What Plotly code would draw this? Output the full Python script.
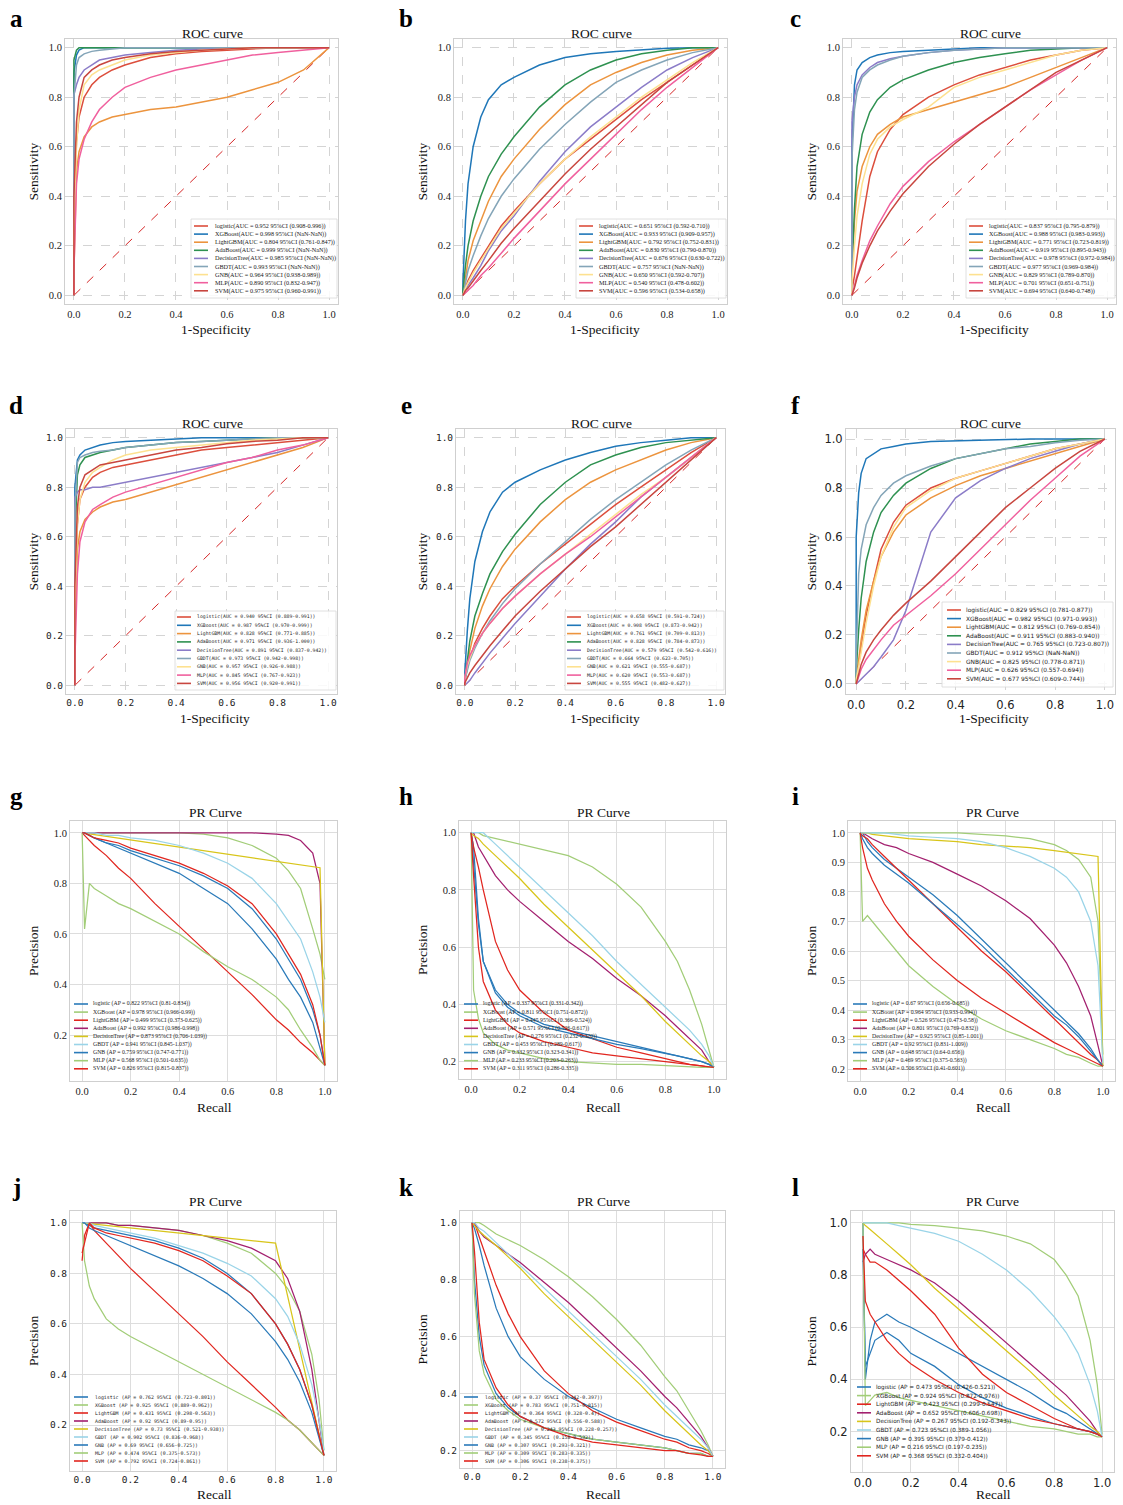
import plotly.graph_objects as go

W, H = 1123, 1505

MODELS = ["logistic", "XGBoost", "LightGBM", "AdaBoost", "DecisionTree",
          "GBDT", "GNB", "MLP", "SVM"]
ROC_COLORS = ["#dc4e3c", "#1f77b8", "#ec943e", "#2e9150", "#8b7cc8",
              "#84a5b8", "#fde190", "#f0609e", "#c8463f"]
PR_COLORS = ["#2a7ab9", "#a2cd78", "#e1261f", "#a3206f", "#d8c51a",
             "#9ad4e8", "#2a7ab9", "#a2cd78", "#e1261f"]
DIAG = [0.0, 1.0]

# ---------------- ROC data (false positive rate grid, TPR per model) ----------------
ROC_FPR = [0.0, 0.0, 0.01, 0.02, 0.04, 0.07, 0.1, 0.15, 0.2, 0.3, 0.4, 0.5, 0.6, 0.7, 0.8, 0.9, 1.0]

ROC_A_TPR = [
    [0, 0.30, 0.62, 0.72, 0.80, 0.85, 0.88, 0.91, 0.93, 0.96, 0.975, 0.985, 0.99, 0.995, 1.0, 1.0, 1.0],
    [0, 0.90, 0.97, 0.99, 1.0, 1.0, 1.0, 1.0, 1.0, 1.0, 1.0, 1.0, 1.0, 1.0, 1.0, 1.0, 1.0],
    [0, 0.10, 0.50, 0.58, 0.64, 0.68, 0.70, 0.72, 0.73, 0.75, 0.76, 0.78, 0.80, 0.83, 0.86, 0.91, 1.0],
    [0, 0.95, 0.99, 1.0, 1.0, 1.0, 1.0, 1.0, 1.0, 1.0, 1.0, 1.0, 1.0, 1.0, 1.0, 1.0, 1.0],
    [0, 0.81, 0.85, 0.88, 0.91, 0.93, 0.95, 0.96, 0.97, 0.98, 0.99, 0.995, 1.0, 1.0, 1.0, 1.0, 1.0],
    [0, 0.80, 0.93, 0.96, 0.975, 0.985, 0.99, 0.995, 1.0, 1.0, 1.0, 1.0, 1.0, 1.0, 1.0, 1.0, 1.0],
    [0, 0.25, 0.60, 0.75, 0.85, 0.89, 0.91, 0.93, 0.95, 0.97, 0.98, 0.99, 0.995, 1.0, 1.0, 1.0, 1.0],
    [0, 0.10, 0.45, 0.55, 0.63, 0.70, 0.75, 0.80, 0.84, 0.88, 0.91, 0.93, 0.95, 0.97, 0.98, 0.99, 1.0],
    [0, 0.40, 0.70, 0.80, 0.88, 0.91, 0.93, 0.95, 0.96, 0.975, 0.985, 0.99, 0.995, 1.0, 1.0, 1.0, 1.0],
]
ROC_A_AUC = ["0.952", "0.998", "0.804", "0.999", "0.985", "0.993", "0.964", "0.890", "0.975"]
ROC_A_CI = ["0.908-0.996", "NaN-NaN", "0.761-0.847", "NaN-NaN", "NaN-NaN", "NaN-NaN",
            "0.938-0.989", "0.832-0.947", "0.960-0.991"]

ROC_B_TPR = [
    [0, 0, 0.03, 0.06, 0.10, 0.15, 0.20, 0.28, 0.34, 0.45, 0.55, 0.63, 0.71, 0.79, 0.86, 0.93, 1.0],
    [0, 0.05, 0.30, 0.45, 0.60, 0.72, 0.79, 0.85, 0.88, 0.93, 0.96, 0.975, 0.985, 0.993, 0.998, 1.0, 1.0],
    [0, 0, 0.08, 0.14, 0.22, 0.30, 0.38, 0.48, 0.55, 0.67, 0.77, 0.85, 0.90, 0.94, 0.97, 0.99, 1.0],
    [0, 0.02, 0.12, 0.20, 0.30, 0.40, 0.48, 0.57, 0.64, 0.76, 0.85, 0.91, 0.95, 0.975, 0.99, 1.0, 1.0],
    [0, 0, 0.02, 0.04, 0.07, 0.12, 0.18, 0.26, 0.32, 0.46, 0.58, 0.68, 0.76, 0.84, 0.91, 0.96, 1.0],
    [0, 0, 0.05, 0.10, 0.16, 0.24, 0.31, 0.40, 0.47, 0.59, 0.69, 0.78, 0.86, 0.91, 0.95, 0.98, 1.0],
    [0, 0, 0.03, 0.05, 0.09, 0.14, 0.19, 0.27, 0.33, 0.45, 0.55, 0.64, 0.72, 0.80, 0.87, 0.94, 1.0],
    [0, 0, 0.01, 0.02, 0.04, 0.08, 0.11, 0.17, 0.23, 0.34, 0.45, 0.55, 0.65, 0.75, 0.84, 0.92, 1.0],
    [0, 0, 0.02, 0.03, 0.06, 0.10, 0.14, 0.21, 0.27, 0.38, 0.49, 0.59, 0.68, 0.77, 0.86, 0.93, 1.0],
]
ROC_B_AUC = ["0.651", "0.933", "0.792", "0.830", "0.676", "0.757", "0.650", "0.540", "0.596"]
ROC_B_CI = ["0.592-0.710", "0.909-0.957", "0.752-0.831", "0.790-0.870", "0.630-0.722",
            "NaN-NaN", "0.592-0.707", "0.478-0.602", "0.534-0.658"]

ROC_C_TPR = [
    [0, 0.02, 0.08, 0.15, 0.30, 0.48, 0.58, 0.67, 0.73, 0.80, 0.85, 0.89, 0.92, 0.95, 0.97, 0.99, 1.0],
    [0, 0.60, 0.85, 0.91, 0.94, 0.96, 0.97, 0.98, 0.985, 0.99, 0.995, 1.0, 1.0, 1.0, 1.0, 1.0, 1.0],
    [0, 0.10, 0.30, 0.42, 0.52, 0.60, 0.65, 0.69, 0.72, 0.75, 0.78, 0.81, 0.84, 0.88, 0.92, 0.96, 1.0],
    [0, 0.10, 0.35, 0.52, 0.65, 0.74, 0.79, 0.84, 0.87, 0.91, 0.94, 0.96, 0.975, 0.99, 0.995, 1.0, 1.0],
    [0, 0.70, 0.80, 0.85, 0.89, 0.92, 0.94, 0.955, 0.965, 0.98, 0.99, 0.995, 1.0, 1.0, 1.0, 1.0, 1.0],
    [0, 0.55, 0.75, 0.82, 0.88, 0.91, 0.93, 0.95, 0.965, 0.98, 0.99, 0.995, 1.0, 1.0, 1.0, 1.0, 1.0],
    [0, 0.05, 0.20, 0.32, 0.45, 0.57, 0.63, 0.68, 0.71, 0.76, 0.84, 0.88, 0.91, 0.94, 0.97, 0.99, 1.0],
    [0, 0, 0.04, 0.08, 0.14, 0.22, 0.28, 0.37, 0.44, 0.54, 0.62, 0.69, 0.76, 0.83, 0.89, 0.95, 1.0],
    [0, 0, 0.03, 0.07, 0.13, 0.20, 0.26, 0.34, 0.41, 0.52, 0.61, 0.69, 0.76, 0.83, 0.90, 0.95, 1.0],
]
ROC_C_AUC = ["0.837", "0.988", "0.771", "0.919", "0.978", "0.977", "0.829", "0.701", "0.694"]
ROC_C_CI = ["0.795-0.879", "0.983-0.993", "0.723-0.819", "0.895-0.943", "0.972-0.984",
            "0.969-0.984", "0.789-0.870", "0.651-0.751", "0.640-0.748"]

ROC_D_TPR = [
    [0, 0.30, 0.65, 0.75, 0.80, 0.84, 0.86, 0.88, 0.89, 0.91, 0.93, 0.95, 0.96, 0.97, 0.98, 0.99, 1.0],
    [0, 0.80, 0.91, 0.93, 0.95, 0.96, 0.97, 0.98, 0.985, 0.99, 0.995, 1.0, 1.0, 1.0, 1.0, 1.0, 1.0],
    [0, 0.20, 0.55, 0.62, 0.67, 0.70, 0.72, 0.74, 0.75, 0.78, 0.81, 0.84, 0.87, 0.90, 0.93, 0.96, 1.0],
    [0, 0.60, 0.85, 0.89, 0.92, 0.93, 0.94, 0.95, 0.96, 0.97, 0.98, 0.985, 0.99, 0.995, 1.0, 1.0, 1.0],
    [0, 0.76, 0.78, 0.79, 0.79, 0.80, 0.80, 0.81, 0.82, 0.84, 0.86, 0.88, 0.90, 0.92, 0.94, 0.97, 1.0],
    [0, 0.70, 0.90, 0.92, 0.93, 0.94, 0.945, 0.95, 0.96, 0.97, 0.98, 0.985, 0.99, 0.995, 1.0, 1.0, 1.0],
    [0, 0.30, 0.65, 0.75, 0.82, 0.86, 0.88, 0.91, 0.93, 0.95, 0.96, 0.97, 0.98, 0.99, 0.995, 1.0, 1.0],
    [0, 0.10, 0.45, 0.58, 0.66, 0.71, 0.73, 0.76, 0.78, 0.81, 0.84, 0.87, 0.90, 0.92, 0.95, 0.97, 1.0],
    [0, 0.40, 0.72, 0.80, 0.85, 0.87, 0.89, 0.90, 0.91, 0.93, 0.95, 0.96, 0.975, 0.985, 0.99, 1.0, 1.0],
]
ROC_D_AUC = ["0.940", "0.987", "0.828", "0.971", "0.891", "0.973", "0.957", "0.845", "0.956"]
ROC_D_CI = ["0.889-0.991", "0.970-0.999", "0.771-0.885", "0.936-1.000", "0.837-0.942",
            "0.942-0.998", "0.926-0.988", "0.767-0.923", "0.920-0.991"]

ROC_E_TPR = [
    [0, 0.02, 0.07, 0.11, 0.17, 0.23, 0.28, 0.35, 0.40, 0.49, 0.57, 0.65, 0.73, 0.80, 0.87, 0.94, 1.0],
    [0, 0.05, 0.22, 0.35, 0.50, 0.62, 0.70, 0.78, 0.82, 0.87, 0.91, 0.94, 0.965, 0.98, 0.99, 1.0, 1.0],
    [0, 0.01, 0.08, 0.14, 0.23, 0.32, 0.39, 0.48, 0.55, 0.66, 0.75, 0.82, 0.87, 0.91, 0.95, 0.98, 1.0],
    [0, 0.02, 0.10, 0.18, 0.28, 0.37, 0.45, 0.54, 0.61, 0.73, 0.82, 0.89, 0.93, 0.96, 0.98, 0.99, 1.0],
    [0, 0, 0.01, 0.02, 0.05, 0.09, 0.13, 0.19, 0.25, 0.36, 0.47, 0.57, 0.66, 0.76, 0.84, 0.92, 1.0],
    [0, 0.02, 0.06, 0.10, 0.15, 0.21, 0.26, 0.33, 0.39, 0.49, 0.58, 0.67, 0.75, 0.82, 0.89, 0.95, 1.0],
    [0, 0.03, 0.08, 0.11, 0.16, 0.21, 0.25, 0.31, 0.36, 0.45, 0.53, 0.61, 0.69, 0.77, 0.84, 0.92, 1.0],
    [0, 0.03, 0.09, 0.12, 0.16, 0.21, 0.25, 0.31, 0.36, 0.45, 0.53, 0.60, 0.68, 0.76, 0.84, 0.92, 1.0],
    [0, 0.01, 0.03, 0.05, 0.08, 0.12, 0.16, 0.22, 0.28, 0.38, 0.47, 0.56, 0.64, 0.73, 0.82, 0.91, 1.0],
]
ROC_E_AUC = ["0.658", "0.908", "0.761", "0.828", "0.579", "0.664", "0.621", "0.620", "0.555"]
ROC_E_CI = ["0.591-0.724", "0.873-0.942", "0.709-0.813", "0.784-0.873", "0.542-0.616",
            "0.623-0.705", "0.555-0.687", "0.553-0.687", "0.482-0.627"]

ROC_F_TPR = [
    [0, 0.02, 0.08, 0.15, 0.28, 0.42, 0.55, 0.66, 0.73, 0.80, 0.84, 0.87, 0.90, 0.93, 0.96, 0.98, 1.0],
    [0, 0.60, 0.78, 0.86, 0.92, 0.94, 0.96, 0.97, 0.98, 0.99, 0.993, 0.996, 1.0, 1.0, 1.0, 1.0, 1.0],
    [0, 0.02, 0.10, 0.18, 0.30, 0.42, 0.52, 0.62, 0.69, 0.76, 0.81, 0.85, 0.88, 0.91, 0.94, 0.97, 1.0],
    [0, 0.05, 0.22, 0.35, 0.50, 0.62, 0.70, 0.77, 0.82, 0.88, 0.92, 0.94, 0.96, 0.98, 0.99, 1.0, 1.0],
    [0, 0, 0.01, 0.02, 0.04, 0.07, 0.11, 0.18, 0.30, 0.62, 0.76, 0.83, 0.88, 0.92, 0.95, 0.98, 1.0],
    [0, 0.10, 0.45, 0.55, 0.65, 0.72, 0.77, 0.82, 0.85, 0.89, 0.92, 0.94, 0.96, 0.97, 0.985, 0.995, 1.0],
    [0, 0.02, 0.07, 0.13, 0.25, 0.40, 0.52, 0.64, 0.72, 0.79, 0.84, 0.87, 0.90, 0.93, 0.96, 0.98, 1.0],
    [0, 0, 0.03, 0.06, 0.10, 0.14, 0.18, 0.24, 0.28, 0.36, 0.45, 0.55, 0.65, 0.75, 0.84, 0.93, 1.0],
    [0, 0, 0.04, 0.08, 0.13, 0.18, 0.22, 0.28, 0.33, 0.42, 0.52, 0.62, 0.72, 0.80, 0.88, 0.95, 1.0],
]
ROC_F_AUC = ["0.829", "0.982", "0.812", "0.911", "0.765", "0.912", "0.825", "0.626", "0.677"]
ROC_F_CI = ["0.781-0.877", "0.971-0.993", "0.769-0.854", "0.883-0.940", "0.723-0.807",
            "NaN-NaN", "0.778-0.871", "0.557-0.694", "0.609-0.744"]

# ---------------- PR data (recall grid, precision per model) ----------------
PR_RECALL = [0.0, 0.01, 0.03, 0.05, 0.1, 0.15, 0.2, 0.3, 0.4, 0.5, 0.6, 0.7, 0.8, 0.85, 0.9, 0.95, 0.98, 1.0]

PR_G_PREC = [
    [1.0, 1.0, 0.99, 0.98, 0.96, 0.95, 0.93, 0.90, 0.87, 0.83, 0.78, 0.70, 0.58, 0.50, 0.42, 0.30, 0.20, 0.08],
    [1.0, 1.0, 1.0, 1.0, 1.0, 1.0, 1.0, 1.0, 1.0, 0.995, 0.98, 0.95, 0.90, 0.85, 0.78, 0.62, 0.52, 0.42],
    [1.0, 0.99, 0.97, 0.95, 0.91, 0.86, 0.82, 0.72, 0.63, 0.54, 0.45, 0.36, 0.26, 0.22, 0.17, 0.13, 0.10, 0.08],
    [1.0, 1.0, 1.0, 1.0, 1.0, 1.0, 1.0, 1.0, 1.0, 1.0, 1.0, 1.0, 0.995, 0.99, 0.97, 0.92, 0.80, 0.08],
    [1.0, 0.998, 0.995, 0.993, 0.986, 0.979, 0.972, 0.958, 0.944, 0.93, 0.916, 0.902, 0.888, 0.881, 0.874, 0.867, 0.862, 0.08],
    [1.0, 1.0, 1.0, 1.0, 0.99, 0.99, 0.98, 0.97, 0.95, 0.92, 0.88, 0.82, 0.72, 0.65, 0.58, 0.45, 0.35, 0.25],
    [1.0, 1.0, 0.99, 0.98, 0.96, 0.94, 0.92, 0.88, 0.84, 0.78, 0.72, 0.62, 0.50, 0.42, 0.35, 0.25, 0.15, 0.08],
    [1.0, 0.62, 0.80, 0.78, 0.75, 0.72, 0.70, 0.65, 0.60, 0.53, 0.47, 0.42, 0.35, 0.30, 0.22, 0.15, 0.10, 0.08],
    [1.0, 1.0, 0.99, 0.98, 0.97, 0.96, 0.94, 0.91, 0.88, 0.84, 0.79, 0.72, 0.60, 0.52, 0.44, 0.32, 0.20, 0.08],
]
PR_G_AP = ["0.822", "0.978", "0.499", "0.992", "0.873", "0.941", "0.759", "0.568", "0.826"]
PR_G_CI = ["0.81-0.834", "0.966-0.99", "0.373-0.625", "0.986-0.998", "0.706-1.039",
           "0.845-1.037", "0.747-0.771", "0.501-0.635", "0.815-0.837"]

PR_H_PREC = [
    [1.0, 0.95, 0.70, 0.55, 0.45, 0.40, 0.37, 0.33, 0.31, 0.29, 0.27, 0.25, 0.23, 0.22, 0.21, 0.20, 0.19, 0.18],
    [1.0, 1.0, 1.0, 0.99, 0.98, 0.97, 0.96, 0.94, 0.92, 0.88, 0.82, 0.74, 0.62, 0.55, 0.45, 0.33, 0.24, 0.18],
    [1.0, 0.95, 0.88, 0.80, 0.62, 0.52, 0.45, 0.37, 0.31, 0.28, 0.25, 0.23, 0.21, 0.20, 0.19, 0.185, 0.18, 0.18],
    [1.0, 1.0, 0.95, 0.92, 0.85, 0.80, 0.76, 0.69, 0.62, 0.56, 0.49, 0.43, 0.36, 0.32, 0.28, 0.24, 0.20, 0.18],
    [1.0, 0.99, 0.98, 0.96, 0.92, 0.88, 0.84, 0.75, 0.67, 0.59, 0.51, 0.43, 0.34, 0.30, 0.26, 0.22, 0.20, 0.18],
    [1.0, 1.0, 1.0, 1.0, 0.96, 0.92, 0.88, 0.80, 0.72, 0.64, 0.55, 0.47, 0.39, 0.35, 0.31, 0.26, 0.22, 0.18],
    [1.0, 0.90, 0.68, 0.55, 0.44, 0.39, 0.36, 0.32, 0.30, 0.28, 0.26, 0.245, 0.23, 0.22, 0.21, 0.20, 0.19, 0.18],
    [1.0, 0.45, 0.35, 0.30, 0.26, 0.24, 0.23, 0.21, 0.20, 0.195, 0.19, 0.19, 0.185, 0.185, 0.18, 0.18, 0.18, 0.18],
    [1.0, 0.85, 0.60, 0.48, 0.38, 0.33, 0.30, 0.27, 0.25, 0.23, 0.22, 0.21, 0.20, 0.195, 0.19, 0.185, 0.18, 0.18],
]
PR_H_AP = ["0.337", "0.811", "0.445", "0.571", "0.276", "0.453", "0.332", "0.233", "0.311"]
PR_H_CI = ["0.331-0.342", "0.751-0.872", "0.366-0.524", "0.526-0.617", "0.232-0.320",
           "0.289-0.617", "0.323-0.341", "0.203-0.263", "0.286-0.335"]

PR_I_PREC = [
    [1.0, 1.0, 0.97, 0.95, 0.91, 0.88, 0.85, 0.79, 0.72, 0.64, 0.56, 0.48, 0.40, 0.36, 0.32, 0.27, 0.23, 0.21],
    [1.0, 1.0, 1.0, 1.0, 1.0, 1.0, 1.0, 1.0, 1.0, 0.995, 0.99, 0.98, 0.96, 0.94, 0.91, 0.85, 0.70, 0.25],
    [1.0, 0.99, 0.98, 0.96, 0.92, 0.88, 0.84, 0.76, 0.68, 0.60, 0.53, 0.45, 0.37, 0.33, 0.29, 0.25, 0.23, 0.21],
    [1.0, 1.0, 0.99, 0.98, 0.96, 0.95, 0.93, 0.90, 0.86, 0.82, 0.77, 0.71, 0.62, 0.56, 0.48, 0.38, 0.28, 0.21],
    [1.0, 1.0, 1.0, 0.995, 0.99, 0.985, 0.98, 0.975, 0.97, 0.96, 0.955, 0.95, 0.94, 0.935, 0.93, 0.925, 0.92, 0.21],
    [1.0, 1.0, 1.0, 1.0, 1.0, 0.995, 0.99, 0.985, 0.98, 0.97, 0.95, 0.92, 0.88, 0.85, 0.80, 0.70, 0.55, 0.22],
    [1.0, 0.98, 0.95, 0.93, 0.89, 0.86, 0.83, 0.76, 0.69, 0.62, 0.54, 0.46, 0.38, 0.35, 0.31, 0.26, 0.23, 0.21],
    [1.0, 0.70, 0.72, 0.70, 0.65, 0.60, 0.55, 0.48, 0.42, 0.37, 0.33, 0.30, 0.27, 0.25, 0.24, 0.22, 0.21, 0.21],
    [1.0, 0.95, 0.88, 0.84, 0.76, 0.70, 0.65, 0.57, 0.50, 0.44, 0.39, 0.34, 0.29, 0.27, 0.25, 0.23, 0.22, 0.21],
]
PR_I_AP = ["0.67", "0.964", "0.526", "0.801", "0.925", "0.92", "0.648", "0.469", "0.506"]
PR_I_CI = ["0.656-0.685", "0.933-0.994", "0.473-0.58", "0.769-0.832", "0.85-1.001",
           "0.831-1.009", "0.64-0.656", "0.375-0.563", "0.41-0.601"]

PR_J_PREC = [
    [1.0, 1.0, 0.99, 0.98, 0.97, 0.96, 0.95, 0.93, 0.90, 0.86, 0.80, 0.72, 0.60, 0.52, 0.42, 0.28, 0.16, 0.08],
    [1.0, 1.0, 1.0, 1.0, 1.0, 0.99, 0.99, 0.98, 0.97, 0.95, 0.92, 0.88, 0.80, 0.74, 0.65, 0.48, 0.30, 0.10],
    [0.85, 0.95, 1.0, 0.97, 0.92, 0.87, 0.82, 0.73, 0.64, 0.55, 0.45, 0.36, 0.27, 0.22, 0.18, 0.13, 0.10, 0.08],
    [1.0, 1.0, 1.0, 1.0, 1.0, 0.99, 0.99, 0.98, 0.97, 0.95, 0.93, 0.90, 0.85, 0.78, 0.65, 0.42, 0.22, 0.08],
    [1.0, 0.999, 0.997, 0.995, 0.99, 0.985, 0.98, 0.97, 0.96, 0.95, 0.94, 0.93, 0.92, 0.71, 0.50, 0.29, 0.16, 0.08],
    [1.0, 1.0, 1.0, 0.99, 0.98, 0.97, 0.96, 0.94, 0.91, 0.88, 0.84, 0.79, 0.70, 0.63, 0.52, 0.36, 0.22, 0.10],
    [1.0, 1.0, 0.98, 0.97, 0.95, 0.93, 0.91, 0.87, 0.83, 0.78, 0.72, 0.64, 0.53, 0.46, 0.37, 0.25, 0.15, 0.08],
    [1.0, 0.85, 0.75, 0.70, 0.62, 0.58, 0.55, 0.50, 0.45, 0.40, 0.35, 0.30, 0.25, 0.22, 0.18, 0.13, 0.10, 0.08],
    [0.88, 0.92, 1.0, 0.98, 0.96, 0.95, 0.94, 0.92, 0.89, 0.85, 0.79, 0.72, 0.60, 0.52, 0.42, 0.28, 0.16, 0.08],
]
PR_J_AP = ["0.762", "0.925", "0.431", "0.92", "0.73", "0.902", "0.69", "0.474", "0.792"]
PR_J_CI = ["0.723-0.801", "0.889-0.962", "0.298-0.563", "0.89-0.95", "0.521-0.938",
           "0.836-0.968", "0.656-0.725", "0.375-0.573", "0.724-0.861"]

PR_K_PREC = [
    [1.0, 0.98, 0.92, 0.85, 0.70, 0.60, 0.53, 0.45, 0.39, 0.35, 0.31, 0.28, 0.25, 0.24, 0.22, 0.21, 0.20, 0.18],
    [1.0, 1.0, 1.0, 0.99, 0.96, 0.94, 0.92, 0.87, 0.81, 0.74, 0.66, 0.57, 0.46, 0.41, 0.34, 0.27, 0.22, 0.18],
    [1.0, 1.0, 0.95, 0.90, 0.78, 0.68, 0.60, 0.48, 0.40, 0.34, 0.30, 0.27, 0.24, 0.23, 0.21, 0.20, 0.19, 0.18],
    [1.0, 1.0, 0.97, 0.95, 0.92, 0.89, 0.86, 0.79, 0.72, 0.64, 0.56, 0.48, 0.39, 0.35, 0.30, 0.25, 0.21, 0.18],
    [1.0, 0.99, 0.97, 0.955, 0.92, 0.88, 0.84, 0.75, 0.67, 0.59, 0.51, 0.43, 0.34, 0.30, 0.26, 0.22, 0.20, 0.18],
    [1.0, 1.0, 0.98, 0.97, 0.93, 0.89, 0.85, 0.77, 0.69, 0.61, 0.53, 0.45, 0.36, 0.32, 0.28, 0.24, 0.21, 0.18],
    [1.0, 0.80, 0.60, 0.50, 0.40, 0.35, 0.32, 0.28, 0.26, 0.24, 0.23, 0.22, 0.21, 0.20, 0.19, 0.19, 0.18, 0.18],
    [1.0, 0.75, 0.55, 0.47, 0.38, 0.34, 0.31, 0.28, 0.26, 0.24, 0.23, 0.22, 0.21, 0.20, 0.19, 0.19, 0.18, 0.18],
    [1.0, 0.90, 0.65, 0.52, 0.42, 0.36, 0.32, 0.28, 0.25, 0.23, 0.22, 0.21, 0.20, 0.20, 0.19, 0.185, 0.18, 0.18],
]
PR_K_AP = ["0.37", "0.783", "0.364", "0.572", "0.243", "0.345", "0.307", "0.309", "0.306"]
PR_K_CI = ["0.342-0.397", "0.751-0.815", "0.328-0.4", "0.556-0.588", "0.228-0.257",
           "0.158-0.532", "0.293-0.321", "0.283-0.335", "0.238-0.375"]

PR_L_PREC = [
    [1.0, 0.40, 0.55, 0.62, 0.65, 0.62, 0.60, 0.55, 0.50, 0.45, 0.40, 0.35, 0.29, 0.27, 0.24, 0.21, 0.19, 0.18],
    [1.0, 1.0, 1.0, 1.0, 1.0, 1.0, 0.995, 0.99, 0.98, 0.97, 0.95, 0.92, 0.86, 0.80, 0.72, 0.55, 0.38, 0.19],
    [0.90, 0.88, 0.85, 0.85, 0.82, 0.78, 0.74, 0.65, 0.52, 0.42, 0.35, 0.30, 0.25, 0.23, 0.21, 0.20, 0.19, 0.18],
    [0.85, 0.88, 0.90, 0.88, 0.86, 0.84, 0.82, 0.77, 0.70, 0.62, 0.54, 0.46, 0.38, 0.34, 0.29, 0.24, 0.20, 0.18],
    [1.0, 0.99, 0.975, 0.96, 0.92, 0.88, 0.84, 0.75, 0.67, 0.59, 0.51, 0.43, 0.34, 0.30, 0.26, 0.22, 0.20, 0.18],
    [1.0, 1.0, 1.0, 1.0, 1.0, 0.99, 0.98, 0.96, 0.93, 0.88, 0.82, 0.74, 0.64, 0.58, 0.50, 0.38, 0.28, 0.18],
    [0.90, 0.45, 0.50, 0.55, 0.58, 0.55, 0.50, 0.45, 0.38, 0.33, 0.29, 0.26, 0.23, 0.22, 0.21, 0.20, 0.19, 0.18],
    [1.0, 0.30, 0.32, 0.34, 0.35, 0.33, 0.32, 0.30, 0.28, 0.26, 0.24, 0.22, 0.21, 0.20, 0.19, 0.19, 0.18, 0.18],
    [0.95, 0.70, 0.65, 0.62, 0.55, 0.50, 0.46, 0.40, 0.35, 0.31, 0.28, 0.25, 0.23, 0.22, 0.21, 0.20, 0.19, 0.18],
]
PR_L_AP = ["0.473", "0.924", "0.423", "0.652", "0.267", "0.723", "0.395", "0.216", "0.368"]
PR_L_CI = ["0.426-0.521", "0.872-0.976", "0.299-0.547", "0.606-0.698", "0.192-0.343",
           "0.389-1.056", "0.379-0.412", "0.197-0.235", "0.332-0.404"]

# ---------------- layout helpers ----------------
SERIF = "Liberation Serif, Times New Roman, serif"
MONO = "DejaVu Sans Mono, monospace"
SANS = "DejaVu Sans, sans-serif"


def fx(p):
    return p / W


def fy(p):
    return 1 - p / H


# x position (pixels) of the rotated y-axis title in each column
YLABEL_X = [33, 422, 811]

PANELS = [
    dict(letter="a", kind="roc", ys=ROC_A_TPR, v=ROC_A_AUC, ci=ROC_A_CI, frame=(65, 39, 338, 304),
         xr=[-0.035, 1.035], yr=[-0.035, 1.035], tf=(SERIF, 10.5), lf=(SERIF, 6.2),
         leg=(194, 213, 226, 8.1), box=(191, 219, 337, 298), lpos=(16, 18),
         tpos=(212, 34), xlpos=(216, 329), col=0),
    dict(letter="b", kind="roc", ys=ROC_B_TPR, v=ROC_B_AUC, ci=ROC_B_CI, frame=(454, 39, 727, 304),
         xr=[-0.035, 1.035], yr=[-0.035, 1.035], tf=(SERIF, 10.5), lf=(SERIF, 6.2),
         leg=(579, 597, 226, 8.1), box=(576, 219, 726, 298), lpos=(406, 18),
         tpos=(601, 34), xlpos=(605, 329), col=1),
    dict(letter="c", kind="roc", ys=ROC_C_TPR, v=ROC_C_AUC, ci=ROC_C_CI, frame=(843, 39, 1116, 304),
         xr=[-0.035, 1.035], yr=[-0.035, 1.035], tf=(SERIF, 10.5), lf=(SERIF, 6.2),
         leg=(969, 987, 226, 8.1), box=(966, 219, 1115, 298), lpos=(795, 18),
         tpos=(990, 34), xlpos=(994, 329), col=2),
    dict(letter="d", kind="roc", ys=ROC_D_TPR, v=ROC_D_AUC, ci=ROC_D_CI, frame=(66, 429, 337, 694),
         xr=[-0.035, 1.035], yr=[-0.035, 1.035], tf=(MONO, 9.5), lf=(MONO, 4.8),
         leg=(177, 195, 617, 8.3), box=(175, 611, 336, 690), lpos=(16, 405),
         tpos=(212, 423), xlpos=(215, 718), col=0),
    dict(letter="e", kind="roc", ys=ROC_E_TPR, v=ROC_E_AUC, ci=ROC_E_CI, frame=(456, 429, 725, 694),
         xr=[-0.035, 1.035], yr=[-0.035, 1.035], tf=(MONO, 9.5), lf=(MONO, 4.8),
         leg=(567, 585, 617, 8.3), box=(565, 611, 724, 690), lpos=(406, 405),
         tpos=(601, 423), xlpos=(605, 718), col=1),
    dict(letter="f", kind="roc", ys=ROC_F_TPR, v=ROC_F_AUC, ci=ROC_F_CI, frame=(846, 429, 1115, 694),
         xr=[-0.041, 1.041], yr=[-0.041, 1.041], tf=(SANS, 11.5), lf=(SANS, 5.9),
         leg=(947, 964, 610, 8.6), box=(942, 602, 1113, 687), lpos=(795, 405),
         tpos=(990, 423), xlpos=(994, 718), col=2),
    dict(letter="g", kind="pr", ys=PR_G_PREC, v=PR_G_AP, ci=PR_G_CI, frame=(70, 821, 337, 1081),
         xr=[-0.05, 1.05], yr=[0.018, 1.047], dt=0.2, tf=(SERIF, 10.5), lf=(SERIF, 5.8),
         leg=(74, 91, 1004, 8.1), box=None, lpos=(16, 796),
         tpos=(215, 812), xlpos=(214, 1107), col=0),
    dict(letter="h", kind="pr", ys=PR_H_PREC, v=PR_H_AP, ci=PR_H_CI, frame=(459, 821, 726, 1079),
         xr=[-0.05, 1.05], yr=[0.139, 1.041], dt=0.2, tf=(SERIF, 10.5), lf=(SERIF, 5.8),
         leg=(464, 481, 1004, 8.1), box=None, lpos=(406, 796),
         tpos=(603, 812), xlpos=(603, 1107), col=1),
    dict(letter="i", kind="pr", ys=PR_I_PREC, v=PR_I_AP, ci=PR_I_CI, frame=(848, 821, 1115, 1081),
         xr=[-0.05, 1.05], yr=[0.16, 1.04], dt=0.1, tf=(SERIF, 10.5), lf=(SERIF, 5.8),
         leg=(853, 870, 1004, 8.1), box=None, lpos=(795, 796),
         tpos=(992, 812), xlpos=(993, 1107), col=2),
    dict(letter="j", kind="pr", ys=PR_J_PREC, v=PR_J_AP, ci=PR_J_CI, frame=(70, 1211, 336, 1471),
         xr=[-0.05, 1.05], yr=[0.018, 1.047], dt=0.2, tf=(MONO, 9.5), lf=(MONO, 4.9),
         leg=(74, 93, 1397, 8.0), box=None, lpos=(16, 1187),
         tpos=(215, 1201), xlpos=(214, 1494), col=0),
    dict(letter="k", kind="pr", ys=PR_K_PREC, v=PR_K_AP, ci=PR_K_CI, frame=(460, 1211, 725, 1468),
         xr=[-0.05, 1.05], yr=[0.139, 1.041], dt=0.2, tf=(MONO, 9.5), lf=(MONO, 4.9),
         leg=(464, 483, 1397, 8.0), box=None, lpos=(406, 1187),
         tpos=(603, 1201), xlpos=(603, 1494), col=1),
    dict(letter="l", kind="pr", ys=PR_L_PREC, v=PR_L_AP, ci=PR_L_CI, frame=(851, 1211, 1114, 1472),
         xr=[-0.05, 1.05], yr=[0.045, 1.046], dt=0.2, tf=(SANS, 11.5), lf=(SANS, 5.7),
         leg=(857, 874, 1387, 8.6), box=None, lpos=(795, 1187),
         tpos=(992, 1201), xlpos=(993, 1494), col=2),
]

fig = go.Figure()
annotations = []
shapes = []
layout_axes = {}

for i, p in enumerate(PANELS, start=1):
    xa = "x" if i == 1 else f"x{i}"
    ya = "y" if i == 1 else f"y{i}"
    xkey = "xaxis" if i == 1 else f"xaxis{i}"
    ykey = "yaxis" if i == 1 else f"yaxis{i}"
    l, t, r, b = p["frame"]
    roc = p["kind"] == "roc"
    colors = ROC_COLORS if roc else PR_COLORS
    xs = ROC_FPR if roc else PR_RECALL
    lw = 1.5 if roc else 1.25

    if roc:
        fig.add_trace(go.Scatter(x=DIAG, y=DIAG, mode="lines", xaxis=xa, yaxis=ya,
                                 line=dict(color="#d62728", width=1, dash="dash"),
                                 showlegend=False, hoverinfo="skip"))
    for m, ys, c in zip(MODELS, p["ys"], colors):
        fig.add_trace(go.Scatter(x=xs, y=ys, mode="lines", xaxis=xa, yaxis=ya, name=m,
                                 line=dict(color=c, width=lw), showlegend=False,
                                 hoverinfo="skip"))

    gridc = "#d4d4d4" if roc else "#dddddd"
    gdash = "dash" if roc else "solid"
    gw = 0.8 if roc else 1.2
    tfam, tsize = p["tf"]
    common = dict(showgrid=True, gridcolor=gridc, griddash=gdash, gridwidth=gw,
                  zeroline=False, showline=True, mirror=True, linecolor="#cfcfcf",
                  linewidth=1, ticks="", tickformat=".1f",
                  tickfont=dict(family=tfam, size=tsize, color="#222222"))
    layout_axes[xkey] = dict(common, domain=[fx(l), fx(r)], range=p["xr"], anchor=ya,
                             tick0=0, dtick=0.2)
    layout_axes[ykey] = dict(common, domain=[fy(b), fy(t)], range=p["yr"], anchor=xa,
                             tick0=0, dtick=0.2 if roc else p["dt"])

    tx_, ty_ = p["tpos"]
    annotations.append(dict(text="ROC curve" if roc else "PR Curve", x=fx(tx_), y=fy(ty_),
                            xref="paper", yref="paper", showarrow=False,
                            xanchor="center", yanchor="middle",
                            font=dict(family=SERIF, size=13.5, color="#111111")))
    xl_, yl_ = p["xlpos"]
    annotations.append(dict(text="1-Specificity" if roc else "Recall", x=fx(xl_), y=fy(yl_),
                            xref="paper", yref="paper", showarrow=False,
                            xanchor="center", yanchor="middle",
                            font=dict(family=SERIF, size=13.5, color="#111111")))
    annotations.append(dict(text="Sensitivity" if roc else "Precision",
                            x=fx(YLABEL_X[p["col"]]),
                            y=fy((t + b) / 2), xref="paper", yref="paper", showarrow=False,
                            textangle=-90, xanchor="center", yanchor="middle",
                            font=dict(family=SERIF, size=13.5, color="#111111")))
    lx, ly = p["lpos"]
    annotations.append(dict(text=f"<b>{p['letter']}</b>", x=fx(lx), y=fy(ly),
                            xref="paper", yref="paper", showarrow=False,
                            xanchor="center", yanchor="middle",
                            font=dict(family=SERIF, size=25, color="#000000")))

    # legend drawn as text + swatches
    if p["box"] is not None:
        bx0, by0, bx1, by1 = p["box"]
        shapes.append(dict(type="rect", xref="paper", yref="paper",
                           x0=fx(bx0), x1=fx(bx1), y0=fy(by1), y1=fy(by0),
                           line=dict(color="#d8d8d8", width=0.8),
                           fillcolor="rgba(255,255,255,0.85)", layer="above"))
    sw, tx, y0, dy = p["leg"]
    lfam, lsize = p["lf"]
    for k, (m, v, ci, c) in enumerate(zip(MODELS, p["v"], p["ci"], colors)):
        yy = y0 + k * dy
        if roc:
            label = f"{m}(AUC = {v} 95%CI ({ci}))"
        else:
            label = f"{m} (AP = {v} 95%CI ({ci}))"
        shapes.append(dict(type="line", xref="paper", yref="paper",
                           x0=fx(sw), x1=fx(sw + 14), y0=fy(yy), y1=fy(yy),
                           line=dict(color=c, width=1.6), layer="above"))
        annotations.append(dict(text=label, x=fx(tx), y=fy(yy), xref="paper", yref="paper",
                                showarrow=False, xanchor="left", yanchor="middle",
                                font=dict(family=lfam, size=lsize, color="#222222")))

fig.update_layout(
    width=W, height=H,
    margin=dict(l=0, r=0, t=0, b=0),
    paper_bgcolor="white", plot_bgcolor="white",
    showlegend=False,
    annotations=annotations,
    shapes=shapes,
    **layout_axes,
)

fig.write_html("out.html", config={"displayModeBar": False},
               post_script="document.body.style.margin='0px';")
